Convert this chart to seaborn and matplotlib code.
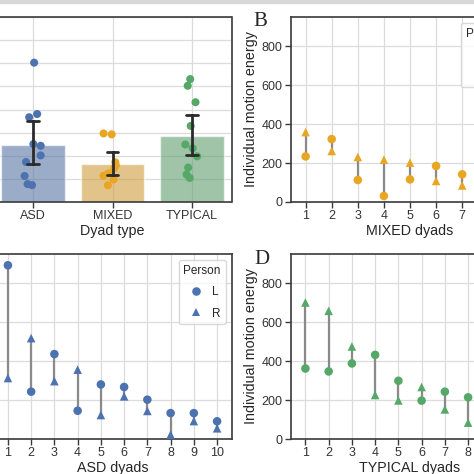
import numpy as np
import pandas as pd
import matplotlib
matplotlib.use('Agg')
import matplotlib.pyplot as plt
import seaborn as sns

# values (motion energy per person)
asd_L = [892, 243, 436, 145, 280, 267, 202, 133, 133, 91]
asd_R = [313, 518, 297, 356, 123, 219, 144, 22, 92, 55]
mixed_L = [234, 323, 113, 31, 116, 185, 142, 120, 95]
mixed_R = [359, 262, 231, 217, 202, 108, 85, 75, 50]
typical_L = [362, 347, 388, 432, 299, 197, 243, 214, 175, 130]
typical_R = [701, 658, 475, 226, 198, 267, 152, 84, 63, 78]

dyad_types = ['ASD', 'MIXED', 'TYPICAL']
type_colors = {'ASD': '#4C72B0', 'MIXED': '#E9A623', 'TYPICAL': '#55A868'}

sns.set_theme(style='whitegrid')
plt.rcParams['font.family'] = ['Liberation Sans Narrow', 'Liberation Sans', 'DejaVu Sans']
plt.rcParams['axes.edgecolor'] = '#3a3a3a'
plt.rcParams['axes.linewidth'] = 1.2
plt.rcParams['grid.color'] = '#dcdcdc'
plt.rcParams['grid.linewidth'] = 0.9

data = {'ASD': (asd_L, asd_R), 'MIXED': (mixed_L, mixed_R), 'TYPICAL': (typical_L, typical_R)}

# long table of individual values
rows = []
for t, (L, R) in data.items():
    for i, (l, r) in enumerate(zip(L, R)):
        rows.append({'type': t, 'dyad': i + 1, 'Person': 'L', 'energy': l})
        rows.append({'type': t, 'dyad': i + 1, 'Person': 'R', 'energy': r})
df = pd.DataFrame(rows)
df_dyad = df.groupby(['type', 'dyad'], as_index=False)['energy'].mean()

fig = plt.figure(figsize=(4.74, 4.74), dpi=100)
W = 238 / 474
H = 185 / 474
ax_a = fig.add_axes([-6.5 / 474, 1 - 202 / 474, W, H])
ax_b = fig.add_axes([291 / 474, 1 - 202 / 474, W, H])
ax_c = fig.add_axes([-6.5 / 474, 1 - 439 / 474, W, H])
ax_d = fig.add_axes([291 / 474, 1 - 439 / 474, W, H])

# panel A: bars of dyad means with the dyads on top
np.random.seed(3)
sns.barplot(data=df_dyad, x='type', y='energy', hue='type', order=dyad_types,
            palette=type_colors, legend=False, alpha=0.6, capsize=0.15, seed=3,
            err_kws={'color': '#2b2b2b', 'linewidth': 2}, ax=ax_a)
sns.stripplot(data=df_dyad, x='type', y='energy', hue='type', order=dyad_types,
              palette=type_colors, legend=False, size=5.8, jitter=0.12, ax=ax_a, zorder=3)
for ln in ax_a.lines:
    ln.set_zorder(4)
ax_a.set_ylim(0, 800)
ax_a.set_yticks(np.arange(0, 801, 100))
ax_a.set_xlabel('Dyad type', fontsize=10.3, labelpad=1)
ax_a.set_ylabel('')

# panels B, C, D: L and R of every dyad
for ax, t, xl in [(ax_b, 'MIXED', (0.44, 9.56)), (ax_c, 'ASD', (0.38, 10.62)),
                  (ax_d, 'TYPICAL', (0.38, 10.62))]:
    sub = df[df['type'] == t]
    L, R = data[t]
    dy = np.arange(1, len(L) + 1)
    ax.vlines(dy, L, R, color='#8a8a8a', linewidth=1.6, zorder=2)
    sns.scatterplot(data=sub, x='dyad', y='energy', style='Person',
                    markers={'L': 'o', 'R': '^'}, color=type_colors[t], s=38,
                    linewidth=0, ax=ax, zorder=3)
    ax.set_xlim(*xl)
    ax.set_ylim(0, 950)
    ax.set_yticks([0, 200, 400, 600, 800])
    ax.set_xticks(dy)
    ax.set_xlabel(t + ' dyads', fontsize=10.3, labelpad=1)
    ax.set_ylabel('Individual motion energy', fontsize=10.3, family='Liberation Sans', labelpad=3)
    if ax is ax_b:
        ax.legend(title='Person', loc='upper left', bbox_to_anchor=(0.714, 0.968),
                  borderaxespad=0, fontsize=8.5, title_fontsize=8.5, labelspacing=0.8,
                  handletextpad=0.4, edgecolor='#d0d0d0')
    else:
        ax.legend(title='Person', loc='upper right', fontsize=8.5, title_fontsize=8.5,
                  labelspacing=0.8, handletextpad=0.4, edgecolor='#d0d0d0')

for ax in [ax_a, ax_b, ax_c, ax_d]:
    ax.tick_params(axis='both', labelsize=9, bottom=True, left=True, length=4,
                   width=1, color='#3a3a3a', labelcolor='#333333', pad=2)
    ax.grid(True)
    for s in ax.spines.values():
        s.set_visible(True)
        s.set_color('#3a3a3a')

# the left panels' y labels lie outside the crop
ax_a.tick_params(axis='y', labelleft=False)
ax_c.tick_params(axis='y', labelleft=False)

fig.text(260 / 474, 1 - 21 / 474, 'B', family='Liberation Serif', fontsize=15,
         ha='center', va='center')
fig.text(262 / 474, 1 - 260 / 474, 'D', family='Liberation Serif', fontsize=15,
         ha='center', va='center')

# grey strip along the top edge
fig.patches.append(plt.Rectangle((0, 1 - 3 / 474), 1, 3 / 474, transform=fig.transFigure,
                                 color='#d8d8d8', zorder=0))

fig.savefig('out.png', dpi=100)
